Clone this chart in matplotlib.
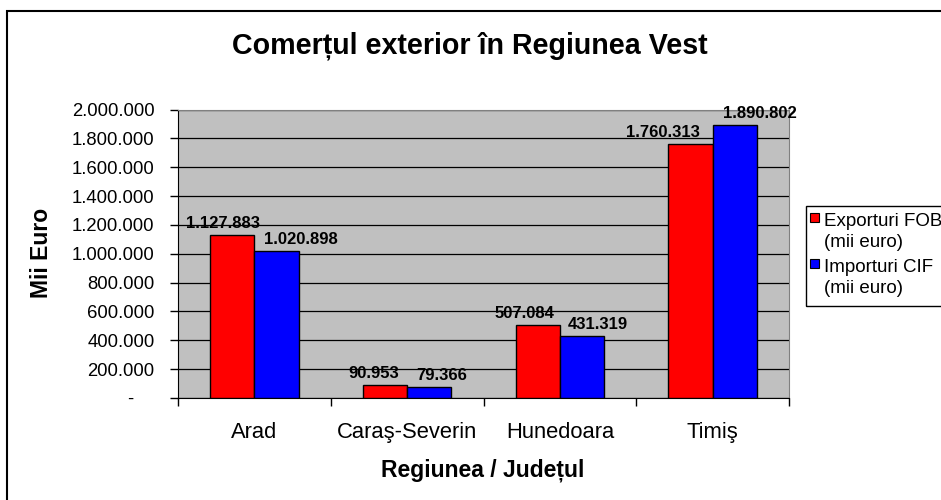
import matplotlib.pyplot as plt
from matplotlib.patches import Rectangle
from matplotlib.ticker import FuncFormatter
import numpy as np

# Date: comert exterior pe judete (mii euro)
judete = ["Arad", "Caraş-Severin", "Hunedoara", "Timiş"]
exporturi = [1127883, 90953, 507084, 1760313]
importuri = [1020898, 79366, 431319, 1890802]
y_ticks = list(range(0, 2000001, 200000))
serii = ["Exporturi FOB", "Importuri CIF"]
culori = ['#FF0000', '#0000FF']

plt.rcParams['font.family'] = ['Liberation Sans', 'DejaVu Sans']

W, H = 941, 500


def fmt_mii(v, pos=None):
    # format romanesc cu punct la mii, zero afisat ca "-"
    if v == 0:
        return "-    "
    return f"{int(v):,}".replace(",", ".")


def fx(px):
    return px / W


def fy(py):
    return 1 - py / H


fig = plt.figure(figsize=(W / 100, H / 100), dpi=100)
ax = fig.add_axes([fx(178), fy(398), (789 - 178) / W, (398 - 109.5) / H])

# chenarul graficului
fig.add_artist(Rectangle((fx(7), -0.05), 1.0, fy(11) + 0.05,
                         transform=fig.transFigure, fill=False,
                         edgecolor='black', lw=1.5))

x = np.arange(len(judete))
w = 0.29
b1 = ax.bar(x - w / 2, exporturi, w, color=culori[0], edgecolor='black', lw=1, zorder=3)
b2 = ax.bar(x + w / 2, importuri, w, color=culori[1], edgecolor='black', lw=1, zorder=3)

# etichetele sunt decalate lateral ca in Excel (pixeli)
dx_exp = [-9, -11, -13, -28]
dx_imp = [24, 12, 16, 25]
for bars, vals, dxs in ((b1, exporturi, dx_exp), (b2, importuri, dx_imp)):
    for r, v, d in zip(bars, vals, dxs):
        ax.annotate(fmt_mii(v), (r.get_x() + r.get_width() / 2, v),
                    xytext=(d * 0.72, 5), textcoords='offset points',
                    ha='center', va='baseline', fontsize=12, fontweight='bold',
                    annotation_clip=False, zorder=5)

ax.set_facecolor('#C0C0C0')
ax.set_ylim(0, 2000000)
ax.set_xlim(-0.5, len(judete) - 0.5)
ax.set_yticks(y_ticks)
ax.yaxis.set_major_formatter(FuncFormatter(fmt_mii))
ax.grid(axis='y', color='black', lw=0.9, zorder=1)

ax.set_xticks(np.arange(len(judete) + 1) - 0.5)
ax.set_xticklabels([])
ax.set_xticks(x, minor=True)
ax.set_xticklabels(judete, minor=True, fontsize=15.8)
ax.tick_params(axis='x', which='minor', length=0, pad=17)
ax.tick_params(axis='x', which='major', length=6, width=1)
ax.tick_params(axis='y', length=6, width=1, labelsize=13.3, pad=11)

ax.spines['top'].set_color('#808080')
ax.spines['right'].set_color('#808080')
ax.spines['left'].set_color('black')
ax.spines['bottom'].set_color('black')

fig.text(fx(42), fy(253), "Mii Euro", rotation=90, ha='center', va='center',
         fontsize=16.5, fontweight='bold')
fig.text(fx(483), fy(470), "Regiunea / Județul", ha='center', va='center',
         fontsize=16.5, fontweight='bold')
fig.text(fx(470), fy(46), "Comerțul exterior în Regiunea Vest",
         ha='center', va='center', fontsize=20.6, fontweight='bold')

# legenda desenata manual (textul pe doua randuri, patratul pe primul rand)
fig.add_artist(Rectangle((fx(806), fy(306)), 1.0, (306 - 206) / H,
                         transform=fig.transFigure, fill=False,
                         edgecolor='black', lw=1))
for i, (nume, c) in enumerate(zip(serii, culori)):
    y0 = 226 + i * 46
    fig.add_artist(Rectangle((fx(810), fy(y0 - 4)), 9 / W, 9 / H,
                             transform=fig.transFigure, facecolor=c,
                             edgecolor='black', lw=0.8))
    fig.text(fx(824), fy(y0), nume, ha='left', va='baseline', fontsize=13.5)
    fig.text(fx(824), fy(y0 + 21), "(mii euro)", ha='left', va='baseline', fontsize=13.5)

fig.savefig("out.png", dpi=100)
